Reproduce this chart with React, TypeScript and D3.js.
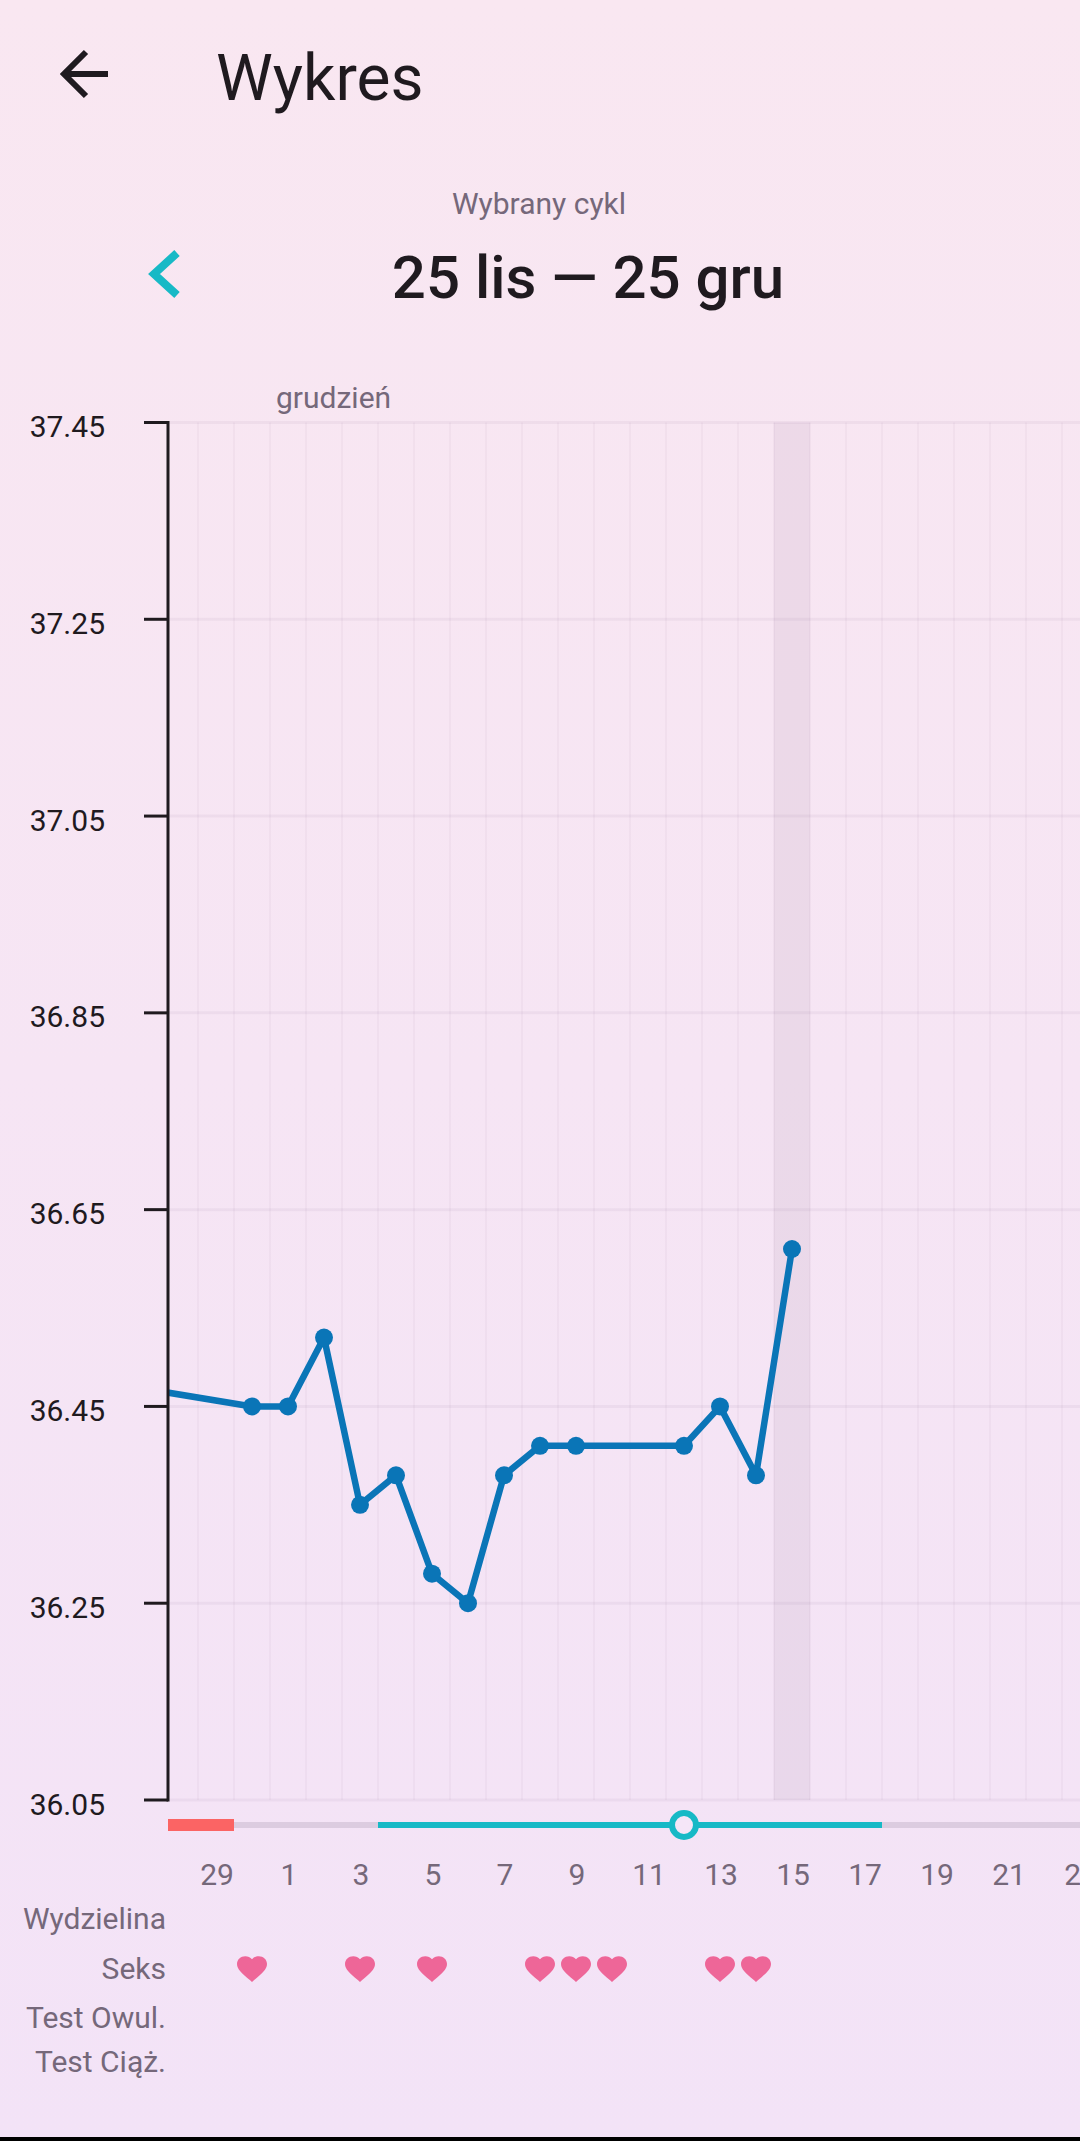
import React from "react";
import * as d3 from "d3";

const WIDTH = 1080;
const HEIGHT = 2141;

// dni liczone od 25 lis (indeks 0)
const tempDays = [0, 5, 6, 7, 8, 9, 10, 11, 12, 13, 14, 17, 18, 19, 20];
const tempValues = [36.48, 36.45, 36.45, 36.52, 36.35, 36.38, 36.28, 36.25, 36.38, 36.41, 36.41, 36.41, 36.45, 36.38, 36.61];
const yTicks = [36.05, 36.25, 36.45, 36.65, 36.85, 37.05, 37.25, 37.45];
const dayLabels = ["29", "1", "3", "5", "7", "9", "11", "13", "15", "17", "19", "21", "23"];
const dayLabelIndex = [4, 6, 8, 10, 12, 14, 16, 18, 20, 22, 24, 26, 28];
const heartDays = [5, 8, 10, 13, 14, 15, 18, 19];
const rowLabels = ["Wydzielina", "Seks", "Test Owul.", "Test Ciąż."];
const rowBaselines = [1929, 1979, 2028, 2072];
const allDays = d3.range(0, 30);
const selectedDay = 20;
const periodRange = [0, 4.5];
const fertileRange = [8.5, 22.5];
const ovulationDay = 17;

const HEART = "M12 21.35l-1.45-1.32C5.4 15.36 2 12.28 2 8.5 2 5.42 4.42 3 7.5 3c1.74 0 3.41.81 4.5 2.09C13.09 3.81 14.76 3 16.5 3 19.58 3 22 5.42 22 8.5c0 3.78-3.4 6.86-8.55 11.54L12 21.35z";

const dark = "#1f1a1f";
const muted = "#75687a";
const teal = "#17b9c6";
const blue = "#0a75b7";
const gridV = "rgba(110,70,120,0.045)";
const gridH = "rgba(110,70,120,0.06)";
const font = "Roboto, sans-serif";

export default function App() {
    const x = d3.scaleLinear().domain([0, 30]).range([72, 1152]);
    const y = d3.scaleLinear().domain([36.05, 37.45]).range([1800, 422.5]);
    const plotLeft = 168;
    const plotTop = y(37.45);
    const plotBottom = y(36.05);

    const line = d3.line<number>()
        .x((_, i) => x(tempDays[i]))
        .y(d => y(d));

    return (
        <svg
            width={WIDTH}
            height={HEIGHT}
            style={{ position: "absolute", left: 0, top: 0, display: "block" }}
            fontFamily={font}
        >
            <defs>
                <linearGradient id="bg" x1="0" x2="0" y1="0" y2="1">
                    <stop offset="0" stopColor="#f9e7f1" />
                    <stop offset="1" stopColor="#f3e3f7" />
                </linearGradient>
                <clipPath id="plot">
                    <rect x={plotLeft} y={0} width={WIDTH - plotLeft} height={HEIGHT} />
                </clipPath>
            </defs>
            <rect width={WIDTH} height={HEIGHT} fill="url(#bg)" />
            <rect y={2137} width={WIDTH} height={4} fill="#000" />

            {/* naglowek */}
            <path d="M108 74H64M86 52L64 74L86 96" fill="none" stroke={dark} strokeWidth={6} />
            <text x={216} y={100} fontSize={64} fill={dark}>Wykres</text>
            <text x={539} y={213.5} fontSize={30} fill={muted} textAnchor="middle">Wybrany cykl</text>
            <path d="M177 253L154 274L177 295" fill="none" stroke={teal} strokeWidth={8} />
            <text x={588} y={297.5} fontSize={60} fontWeight={500} fill={dark} textAnchor="middle">25 lis — 25 gru</text>
            <text x={276} y={408} fontSize={30} fill={muted}>grudzień</text>

            {/* siatka */}
            <g clipPath="url(#plot)">
                <rect
                    x={x(selectedDay - 0.5)}
                    y={plotTop}
                    width={x(selectedDay + 0.5) - x(selectedDay - 0.5)}
                    height={plotBottom - plotTop}
                    fill="rgba(110,70,110,0.075)"
                />
                {allDays.map(d => (
                    <line key={d} x1={x(d + 0.5)} x2={x(d + 0.5)} y1={plotTop} y2={plotBottom} stroke={gridV} strokeWidth={2} />
                ))}
                {yTicks.map(t => (
                    <line key={t} x1={plotLeft} x2={WIDTH} y1={y(t)} y2={y(t)} stroke={gridH} strokeWidth={3} />
                ))}
                <path d={line(tempValues) ?? ""} fill="none" stroke={blue} strokeWidth={6.5} strokeLinejoin="round" />
                {tempValues.map((v, i) => (
                    <circle key={i} cx={x(tempDays[i])} cy={y(v)} r={9} fill={blue} />
                ))}
            </g>

            {/* os Y */}
            <line x1={plotLeft} x2={plotLeft} y1={plotTop - 1.5} y2={plotBottom + 1.5} stroke={dark} strokeWidth={3} />
            {yTicks.map(t => (
                <g key={t}>
                    <line x1={144} x2={plotLeft} y1={y(t)} y2={y(t)} stroke={dark} strokeWidth={3} />
                    <text x={105} y={y(t) + 14.5} fontSize={30} fill={dark} textAnchor="end">{t.toFixed(2)}</text>
                </g>
            ))}

            {/* pasek cyklu */}
            <rect x={plotLeft} y={1822} width={WIDTH - plotLeft} height={6} fill="#dccce0" />
            <rect x={x(fertileRange[0])} y={1822} width={x(fertileRange[1]) - x(fertileRange[0])} height={6} fill={teal} />
            <rect x={plotLeft} y={1819} width={x(periodRange[1]) - plotLeft} height={12} fill="#fb6464" />
            <circle cx={x(ovulationDay)} cy={1825} r={12} fill="#f5e6f8" stroke={teal} strokeWidth={6} />

            {/* dni */}
            {dayLabels.map((label, i) => (
                <text key={label} x={x(dayLabelIndex[i]) + 1} y={1885} fontSize={30} fill={muted} textAnchor="middle">{label}</text>
            ))}

            {/* wiersze */}
            {rowLabels.map((label, i) => (
                <text key={label} x={166} y={rowBaselines[i]} fontSize={30} fill={muted} textAnchor="end">{label}</text>
            ))}
            {heartDays.map(d => (
                <path
                    key={d}
                    d={HEART}
                    fill="#ee6698"
                    transform={`translate(${x(d) - 18},${1952}) scale(1.5,1.4)`}
                />
            ))}
        </svg>
    );
}
